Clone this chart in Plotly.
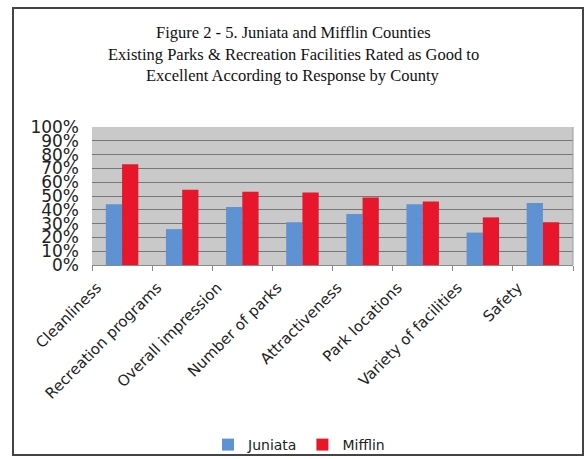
import plotly.graph_objects as go

categories = ["Cleanliness", "Recreation programs", "Overall impression", "Number of parks",
              "Attractiveness", "Park locations", "Variety of facilities", "Safety"]
juniata = [0.44, 0.26, 0.42, 0.31, 0.37, 0.44, 0.235, 0.45]
mifflin = [0.73, 0.545, 0.53, 0.525, 0.49, 0.46, 0.345, 0.31]
title_lines = ["Figure 2 - 5. Juniata and Mifflin Counties",
               "Existing Parks &amp; Recreation Facilities Rated as Good to",
               "Excellent According to Response by County"]

W, H = 587, 459
L, R, T, B = 92, 573, 127, 265

def px_x(p):
    return (p - L) / (R - L)

def px_y(p):
    return (B - p) / (B - T)

fig = go.Figure()
fig.add_trace(go.Bar(name="Juniata", x=categories, y=juniata, marker_color="#5f92d3",
                     marker_line_width=0))
fig.add_trace(go.Bar(name="Mifflin", x=categories, y=mifflin, marker_color="#e8162b",
                     marker_line_width=0))

annotations = []
for txt, yy in zip(title_lines, [32, 54, 76]):
    annotations.append(dict(text=txt, xref="paper", yref="paper", x=px_x(293), y=px_y(yy),
                            xanchor="center", yanchor="middle", showarrow=False,
                            font=dict(family="Liberation Serif", size=16.5, color="#111")))

fig.update_layout(
    width=W, height=H,
    margin=dict(l=L, r=W - R, t=T, b=H - B, pad=0, autoexpand=False),
    paper_bgcolor="white",
    plot_bgcolor="#c9c9c9",
    barmode="group",
    bargap=0.46,
    bargroupgap=0.0,
    font=dict(family="DejaVu Sans", color="#222"),
    showlegend=True,
    legend=dict(orientation="h", x=px_x(299), y=px_y(445), xanchor="center", yanchor="middle",
                font=dict(size=14, family="DejaVu Sans"), bgcolor="rgba(0,0,0,0)",
                itemwidth=30, tracegroupgap=0),
    yaxis=dict(range=[0, 1], dtick=0.1, tickformat=".0%", gridcolor="#777777", gridwidth=1.2,
               tickfont=dict(size=17), showline=False, zeroline=False, ticks="",
               ticklabelstandoff=12, automargin=False, fixedrange=True),
    xaxis=dict(tickangle=-45, tickfont=dict(size=15), showline=True, linecolor="#8a8a8a",
               ticks="outside", tickson="boundaries", tickcolor="#8a8a8a", ticklen=5,
               ticklabelshift=-25, ticklabelstandoff=7, automargin=False),
    annotations=annotations,
    shapes=[
        dict(type="rect", xref="paper", yref="paper",
             x0=px_x(13), x1=px_x(583), y0=px_y(455), y1=px_y(8),
             line=dict(color="#444", width=2), fillcolor="rgba(0,0,0,0)"),
        dict(type="line", xref="paper", yref="paper", x0=1, x1=1, y0=0, y1=1,
             line=dict(color="#9a9a9a", width=1)),
    ],
)

fig.write_html("out.html", config={"displayModeBar": False},
               post_script="document.body.style.margin='0px';document.body.style.overflow='hidden';")
